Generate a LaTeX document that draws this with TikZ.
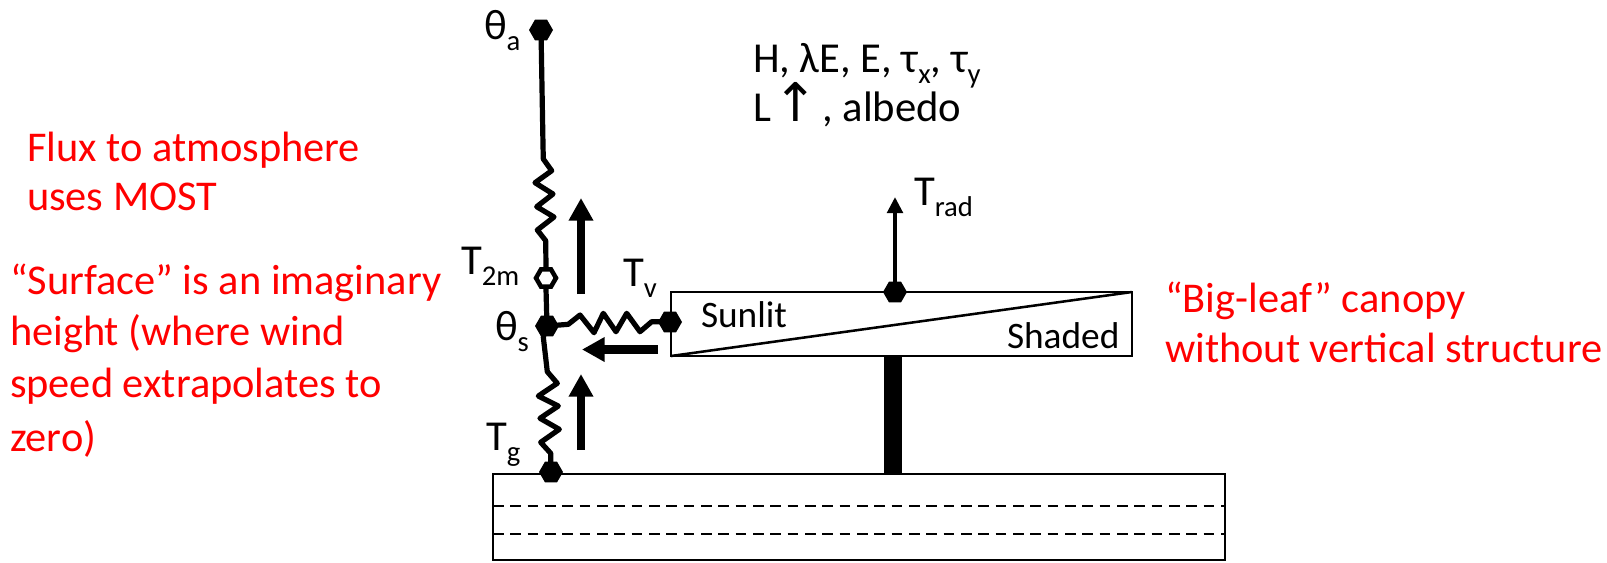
\documentclass[tikz,border=0pt]{standalone}
\usepackage{fontspec}
\setmainfont{Carlito}
\newfontfamily\arrowfont{DejaVu Sans}
\usetikzlibrary{shapes.geometric,arrows.meta}
\newcommand{\subt}[1]{\raisebox{-0.27em}{\fontsize{21.5}{21.5}\selectfont #1}}
\tikzset{
 lbl/.style={anchor=base west,inner sep=0,outer sep=0,font=\fontsize{32}{32}\selectfont},
 redlbl/.style={lbl,text=red,font=\fontsize{31.8}{32}\selectfont},
 hexfill/.style={regular polygon,regular polygon sides=6,minimum size=18pt,inner sep=0,fill=black,draw=none},
 hexopen/.style={regular polygon,regular polygon sides=6,minimum size=15pt,inner sep=0,fill=white,draw=black,line width=3.4pt},
 wire/.style={line width=3.9pt,line join=round},
 boxline/.style={line width=1.9pt,draw=black},
 fatarrow/.style={line width=6.2pt,-{Triangle[length=17pt,width=17.5pt]}},
 thinarrow/.style={line width=3.4pt,-{Triangle[length=12pt,width=11.5pt]}},
 dashline/.style={line width=1.8pt,dash pattern=on 8pt off 5pt},
}
\begin{document}
\begin{tikzpicture}[x=0.75pt,y=-0.75pt]
\useasboundingbox[fill=white] (0,0) rectangle (1607,562);
% boxes
\node[draw=none,minimum size=0,inner sep=0] (grTL) at (493,474) {};
\node[draw=none,minimum size=0,inner sep=0] (grBR) at (1225,560) {};
\draw[boxline] (grTL.center) rectangle (grBR.center);
\coordinate (d1l) at (493,506); \coordinate (d1r) at (1225,506);
\coordinate (d2l) at (493,534); \coordinate (d2r) at (1225,534);
\draw[dashline] (d1l) -- (d1r);
\draw[dashline] (d2l) -- (d2r);
\coordinate (cTL) at (671,292); \coordinate (cBR) at (1132,356);
\coordinate (cBL) at (671,356); \coordinate (cTR) at (1132,292);
\draw[boxline] (cTL) rectangle (cBR);
\draw[line width=1.9pt] (cBL) -- (cTR);
\coordinate (stemT) at (893,357); \coordinate (stemB) at (893,474);
\draw[line width=13pt] (stemT) -- (stemB);
% nodes
\node[hexfill] (ta) at (541,30) {};
\node[hexopen] (t2) at (546,278) {};
\node[hexfill] (ts) at (547,326) {};
\node[hexfill] (tg) at (551,472) {};
\node[hexfill] (tv) at (670,322) {};
\node[hexfill] (trad) at (895,292) {};
% wires
\draw[wire] (ta.center) -- (543,145) -- (543.3,159) -- (551.7,170.7) -- (535,182.7) -- (553,194) -- (536.7,206.7) -- (554,217) -- (537.3,230) -- (545.7,240.7) -- (t2.north);
\draw[wire] (t2.south) -- (ts.center);
\draw[wire] (ts.center) -- (543.3,337) -- (547.3,371.7) -- (557.3,383.3) -- (538.3,396) -- (558.3,406) -- (540,418.3) -- (559.3,429.3) -- (540.7,442.3) -- (550.7,453.3) -- (tg.center);
\draw[wire] (ts.center) -- (568.3,324.3) -- (580,315) -- (594,332.7) -- (603.3,313.3) -- (616,331.7) -- (626.7,313.3) -- (640,331.7) -- (651.7,321.7) -- (tv.center);
% arrows
\coordinate (a1s) at (581,294); \coordinate (a1e) at (581,198);
\coordinate (a2s) at (581,450); \coordinate (a2e) at (581,374);
\coordinate (a3s) at (658,349.5); \coordinate (a3e) at (582,349.5);
\draw[fatarrow] (a1s) -- (a1e);
\draw[fatarrow] (a2s) -- (a2e);
\draw[fatarrow] (a3s) -- (a3e);
\coordinate (tradtip) at (895,197);
\draw[thinarrow] (trad.center) -- (tradtip);
% labels
\node[lbl] (la) at (484,39) {θ\subt{a}};
\node[lbl] (l2) at (461,274) {T\subt{2m}};
\node[lbl] (lv) at (623,286) {T\subt{v}};
\node[lbl] (ls) at (495,340) {θ\subt{s}};
\node[lbl] (lg) at (486,450) {T\subt{g}};
\node[lbl] (lr) at (914,205) {T\subt{rad}};
\node[lbl,font=\fontsize{28}{28}\selectfont] (sun) at (701,327) {Sunlit};
\node[lbl,font=\fontsize{28}{28}\selectfont] (sha) at (1007,348) {Shaded};
\node[lbl] (h1) at (753,72) {H, λE, E, τ\subt{x}, τ\subt{y}};
\node[lbl] (h2) at (753,121) {L\kern2pt{\arrowfont\fontsize{40}{40}\selectfont ↑}\kern3pt, albedo};
\node[redlbl] (r1) at (27,161) {Flux to atmosphere};
\node[redlbl] (r2) at (27,210) {uses MOST};
\node[redlbl] (r3) at (10,294) {“Surface” is an imaginary};
\node[redlbl] (r4) at (10,345) {height (where wind};
\node[redlbl] (r5) at (10,397) {speed extrapolates to};
\node[redlbl] (r6) at (10,451) {zero)};
\node[redlbl] (r7) at (1165,312) {“Big-leaf” canopy};
\node[redlbl] (r8) at (1165,362) {without vertical structure};
\end{tikzpicture}
\end{document}
